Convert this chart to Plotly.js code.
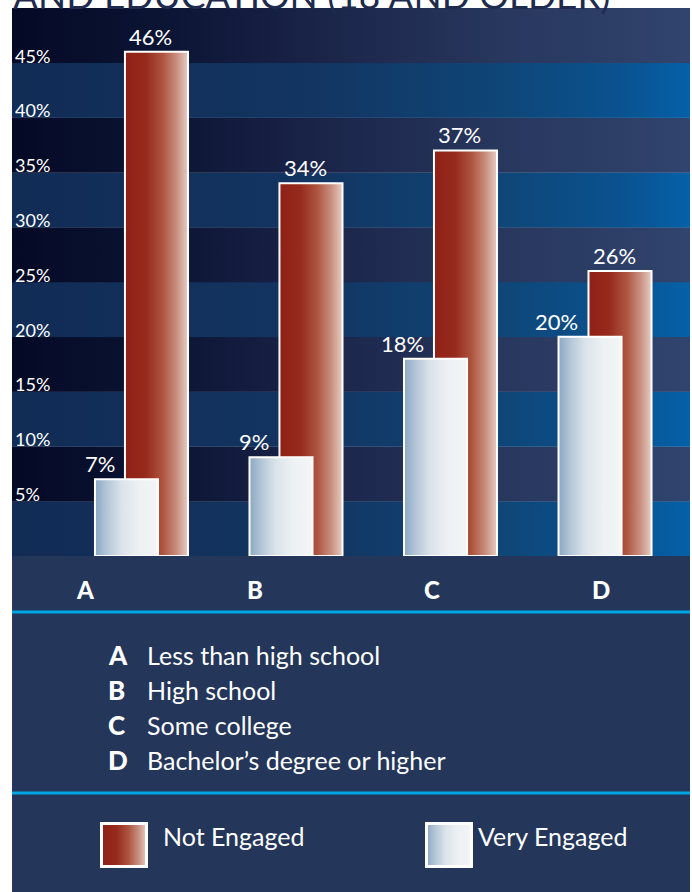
<!DOCTYPE html>
<html><head><meta charset="utf-8">
<script src="https://cdn.plot.ly/plotly-3.0.1.min.js"></script>
<style>html,body{margin:0;padding:0;background:#fff;}#chart{width:692px;height:892px;}</style>
</head><body><div id="chart"></div>
<script>
// ---------- data ----------
const categories = ['A', 'B', 'C', 'D'];
const categoryNames = ['Less than high school', 'High school', 'Some college', 'Bachelor\u2019s degree or higher'];
const seriesNames = ['Not Engaged', 'Very Engaged'];
const notEngaged = [46, 34, 37, 26];
const veryEngaged = [7, 9, 18, 20];
const yTickVals = [5, 10, 15, 20, 25, 30, 35, 40, 45];
const yTickText = yTickVals.map(v => v + '%');
const titleText = 'AND EDUCATION (18 AND OLDER)';

// ---------- styles ----------
const W = 692, H = 892;
const M = {l: 12, r: 2, t: 8, b: 336};
const PW = W - M.l - M.r, PH = H - M.t - M.b;
const yMax = 50;
const FONT = 'Lato, "Open Sans", sans-serif';
const letterRowX = [85, 255, 432, 601];   // page x of the category letter row
const redStops = [[0, '#8f2116'], [0.33, '#962a1c'], [0.6, '#ad5540'], [0.82, '#c98f7f'], [1, '#e6cdc5']];
const lightStops = [[0, '#8aa7c3'], [0.18, '#b2c5d7'], [0.42, '#dbe3ea'], [0.7, '#edf1f3'], [1, '#f3f5f6']];
const darkStops = [[0, '#040925'], [0.25, '#0d1636'], [0.45, '#1a2449'], [0.72, '#28375e'], [1, '#30446d']];
const bandStops = [[0, '#112c55'], [0.45, '#133562'], [0.72, '#0e4677'], [0.9, '#0a5290'], [1, '#0561a8']];

const px = x => (x - M.l) / PW;          // page x -> paper x
const py = y => (M.t + PH - y) / PH;     // page y -> paper y

function stopsSvg(stops) {
  return stops.map(s => `<stop offset="${s[0]}" stop-color="${s[1]}"/>`).join('');
}
function svgUri(s) { return 'data:image/svg+xml;charset=utf-8,' + encodeURIComponent(s); }

// striped background following the y axis scale
let rects = '';
const bounds = [0].concat(yTickVals, [yMax]);
for (let i = 0; i < bounds.length - 1; i++) {
  const y0 = 1000 * (1 - bounds[i + 1] / yMax), y1 = 1000 * (1 - bounds[i] / yMax);
  const fill = (i % 2 === 0) ? 'url(#band)' : 'url(#dark)';
  rects += `<rect x="0" y="${y0}" width="1000" height="${y1 - y0 + 0.5}" fill="${fill}"/>`;
}
const bgSvg = `<svg xmlns="http://www.w3.org/2000/svg" width="1000" height="1000" viewBox="0 0 1000 1000" preserveAspectRatio="none"><defs><linearGradient id="dark" x1="0" x2="1" y1="0" y2="0">${stopsSvg(darkStops)}</linearGradient><linearGradient id="band" x1="0" x2="1" y1="0" y2="0">${stopsSvg(bandStops)}</linearGradient></defs>${rects}</svg>`;

function swatchSvg(stops) {
  return `<svg xmlns="http://www.w3.org/2000/svg" width="48" height="46" viewBox="0 0 48 46" preserveAspectRatio="none"><defs><linearGradient id="g" x1="0" x2="1" y1="0" y2="0">${stopsSvg(stops)}</linearGradient></defs><rect x="1.5" y="1.5" width="45" height="43" fill="url(#g)" stroke="#ffffff" stroke-width="3"/></svg>`;
}

// ---------- traces ----------
const barWidth = 0.408;
const data = [
  {type: 'bar', name: seriesNames[0], x: categories, y: notEngaged,
   offset: -0.11, width: barWidth,
   marker: {color: '#9a2a1c', line: {color: '#ffffff', width: 2}},
   hoverinfo: 'skip', showlegend: false},
  {type: 'bar', name: seriesNames[1], x: categories, y: veryEngaged,
   offset: -0.304, width: barWidth,
   marker: {color: '#dde5ec', line: {color: '#ffffff', width: 2}},
   hoverinfo: 'skip', showlegend: false}
];

// ---------- annotations ----------
const annotations = [];
annotations.push({xref: 'paper', yref: 'paper', x: px(11), y: py(19), xanchor: 'left', yanchor: 'bottom',
  text: titleText, showarrow: false, font: {family: FONT, size: 37, color: '#1f2b4e'}});
categories.forEach((c, i) => {
  annotations.push({x: c, y: notEngaged[i], xref: 'x', yref: 'y', text: notEngaged[i] + '%',
    xanchor: 'center', yanchor: 'bottom', xshift: 9, yshift: 0, showarrow: false,
    font: {family: FONT, size: 22, color: '#ffffff'}});
  annotations.push({x: c, y: veryEngaged[i], xref: 'x', yref: 'y', text: veryEngaged[i] + '%',
    xanchor: 'right', yanchor: 'bottom', xshift: -25, yshift: 0, showarrow: false,
    font: {family: FONT, size: 22, color: '#ffffff'}});
  // category letter row under the plot
  annotations.push({xref: 'paper', yref: 'paper', x: px(letterRowX[i]), y: py(589), xanchor: 'center', yanchor: 'middle',
    text: c, showarrow: false, font: {family: FONT, size: 24, color: '#ffffff', weight: 900}});
  // category key
  const rowY = py(655 + 35 * i);
  annotations.push({xref: 'paper', yref: 'paper', x: px(106), y: rowY, xanchor: 'left', yanchor: 'middle',
    text: c, showarrow: false, font: {family: FONT, size: 26, color: '#ffffff', weight: 900}});
  annotations.push({xref: 'paper', yref: 'paper', x: px(145), y: rowY, xanchor: 'left', yanchor: 'middle',
    text: categoryNames[i], showarrow: false, font: {family: FONT, size: 25, color: '#ffffff'}});
});
annotations.push({xref: 'paper', yref: 'paper', x: px(161), y: py(836), xanchor: 'left', yanchor: 'middle',
  text: seriesNames[0], showarrow: false, font: {family: FONT, size: 25, color: '#ffffff'}});
annotations.push({xref: 'paper', yref: 'paper', x: px(476), y: py(836), xanchor: 'left', yanchor: 'middle',
  text: seriesNames[1], showarrow: false, font: {family: FONT, size: 25, color: '#ffffff'}});

// ---------- layout ----------
const layout = {
  width: W, height: H,
  margin: M,
  paper_bgcolor: '#ffffff',
  plot_bgcolor: 'rgba(0,0,0,0)',
  barmode: 'overlay',
  showlegend: false,
  xaxis: {type: 'category', range: [-0.841, 3.547], showticklabels: false, ticks: '',
          showgrid: false, zeroline: false, showline: false, fixedrange: true},
  yaxis: {range: [0, yMax], tickmode: 'array', tickvals: yTickVals, ticktext: yTickText,
          ticklabelposition: 'inside top', ticklabelshift: 6, ticks: '', showgrid: false, zeroline: false,
          showline: false, tickfont: {family: FONT, size: 18, color: '#ffffff'}},
  images: [
    {source: svgUri(bgSvg), xref: 'paper', yref: 'paper', x: 0, y: 1, sizex: 1, sizey: 1,
     xanchor: 'left', yanchor: 'top', sizing: 'stretch', layer: 'below'},
    {source: svgUri(swatchSvg(redStops)), xref: 'paper', yref: 'paper', x: px(100), y: py(822),
     sizex: 48 / PW, sizey: 46 / PH, xanchor: 'left', yanchor: 'top', sizing: 'stretch', layer: 'above'},
    {source: svgUri(swatchSvg(lightStops)), xref: 'paper', yref: 'paper', x: px(425), y: py(822),
     sizex: 48 / PW, sizey: 46 / PH, xanchor: 'left', yanchor: 'top', sizing: 'stretch', layer: 'above'}
  ],
  shapes: [
    {type: 'rect', xref: 'paper', yref: 'paper', x0: 0, x1: 1, y0: py(H + 2), y1: 0,
     fillcolor: '#243659', line: {width: 0}, layer: 'below'},
    {type: 'line', xref: 'paper', yref: 'paper', x0: 0, x1: 1, y0: py(612), y1: py(612),
     line: {color: '#00a6e6', width: 3}},
    {type: 'line', xref: 'paper', yref: 'paper', x0: 0, x1: 1, y0: py(793), y1: py(793),
     line: {color: '#00a6e6', width: 3}}
  ],
  annotations: annotations
};

Plotly.newPlot('chart', data, layout, {staticPlot: true, displayModeBar: false}).then(gd => {
  const ns = 'http://www.w3.org/2000/svg';
  const svg = gd.querySelector('.main-svg');
  let defs = svg.querySelector('defs');
  if (!defs) { defs = document.createElementNS(ns, 'defs'); svg.insertBefore(defs, svg.firstChild); }
  function addGrad(id, stops) {
    const g = document.createElementNS(ns, 'linearGradient');
    g.setAttribute('id', id);
    g.setAttribute('x1', '0'); g.setAttribute('x2', '1'); g.setAttribute('y1', '0'); g.setAttribute('y2', '0');
    stops.forEach(s => {
      const st = document.createElementNS(ns, 'stop');
      st.setAttribute('offset', s[0]); st.setAttribute('stop-color', s[1]);
      g.appendChild(st);
    });
    defs.appendChild(g);
  }
  addGrad('barGradRed', redStops);
  addGrad('barGradLight', lightStops);
  const traces = gd.querySelectorAll('.barlayer .trace');
  const ids = ['barGradRed', 'barGradLight'];
  traces.forEach((t, k) => {
    t.querySelectorAll('path').forEach(p => { p.style.fill = 'url(#' + ids[k] + ')'; });
  });
});
</script>
</body></html>
